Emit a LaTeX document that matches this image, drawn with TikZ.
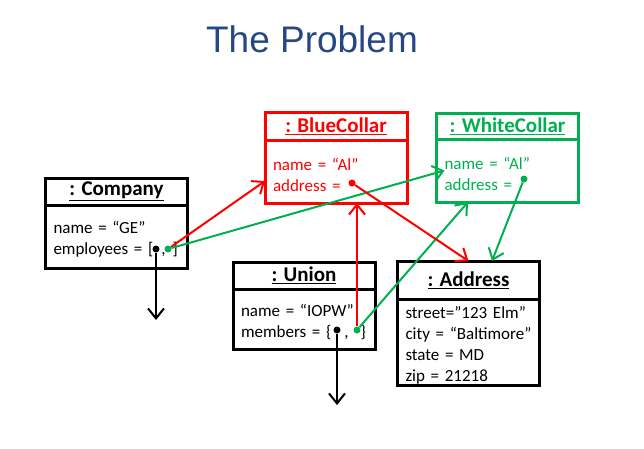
\documentclass[tikz,border=0pt]{standalone}
\usepackage{fontspec}
\setmainfont{Carlito}
\newfontfamily\titlefont{Liberation Sans}
\usetikzlibrary{arrows.meta}
\usetikzlibrary{positioning}
\definecolor{bcred}{RGB}{255,0,0}
\definecolor{wcgreen}{RGB}{0,176,80}
\definecolor{ttlblue}{RGB}{37,72,130}

\tikzset{
    objhead/.style={draw, line width=3pt, outer sep=0pt, inner sep=0pt, minimum width=142pt,
        font=\fontsize{21}{24}\selectfont\bfseries},
    objbody/.style={draw, line width=3pt, outer sep=0pt, inner xsep=8pt, inner ysep=0pt,
        text width=126pt, align=left, anchor=north, font=\fontsize{17}{21}\selectfont,
        execute at begin node={\rule{0pt}{18.5pt}}},
    dot/.style={circle, fill=#1, inner sep=0pt, minimum size=7pt},
    ref/.style={-{Straight Barb[length=10pt,width=16pt]}, line width=2pt}
}

\begin{document}
\begin{tikzpicture}[x=1pt,y=-1pt]
    \useasboundingbox (0,0) rectangle (644,448);

    \node[font=\titlefont\fontsize{37}{40}\selectfont, text=ttlblue] (title) at (312,39.5) {The Problem};

    % objects
    \node[objhead, minimum height=27pt] (comph) at (116.5,191.5) {\underline{: Company}};
    \node[objbody, minimum height=63pt] (compb) at (comph.south) {name = ``GE''\\\mbox{employees = [\hspace{8pt},\hspace{7pt}]}};

    \node[objhead, minimum height=28pt, color=bcred] (blueh) at (336,126) {\underline{: BlueCollar}};
    \node[objbody, minimum height=63pt, color=bcred] (blueb) at (blueh.south) {name = ``Al''\\address =};

    \node[objhead, minimum height=26pt, color=wcgreen] (whiteh) at (507.5,126) {\underline{: WhiteCollar}};
    \node[objbody, minimum height=63pt, color=wcgreen] (whiteb) at (whiteh.south) {name = ``Al''\\address =};

    \node[objhead, minimum height=27pt] (unionh) at (304,275.5) {\underline{: Union}};
    \node[objbody, minimum height=60pt] (unionb) at (unionh.south) {name = ``IOPW''\\\mbox{members = \{\hspace{13pt},\hspace{12pt}\}}};

    \node[objhead, minimum height=38pt] (addrh) at (468.5,280) {\underline{: Address}};
    \node[objbody, minimum height=86pt] (addrb) at (addrh.south) {street=''123 Elm''\\city = ``Baltimore''\\state = MD\\zip = 21218};

    % references
    \node[dot=black] (compB) at (156,249) {};
    \node[dot=wcgreen] (compG) at (168,249) {};
    \node[dot=bcred] (blueA) at (352,183) {};
    \node[dot=wcgreen] (whiteA) at (524,179) {};
    \node[dot=black] (unionB) at (337,330) {};
    \node[dot=wcgreen] (unionG) at (357,330) {};
    \coordinate (compOut) at (156,320);
    \coordinate (unionOut) at (337,405);

    \draw[ref, bcred] (compG) -- ([yshift=-9.5pt]blueb.west);
    \draw[ref, wcgreen] (compG) -- ([xshift=8pt]whiteb.west);
    \draw[ref, bcred] (unionG) -- (unionG |- blueb.south);
    \draw[ref, wcgreen] (unionG) -- ([xshift=-39.5pt]whiteb.south);
    \draw[ref, bcred] (blueA) -- (addrh.north);
    \draw[ref, wcgreen] (whiteA) -- ([xshift=23.5pt]addrh.north);
    \draw[ref] (compB) -- (compOut);
    \draw[ref] (unionB) -- (unionOut);
\end{tikzpicture}
\end{document}
